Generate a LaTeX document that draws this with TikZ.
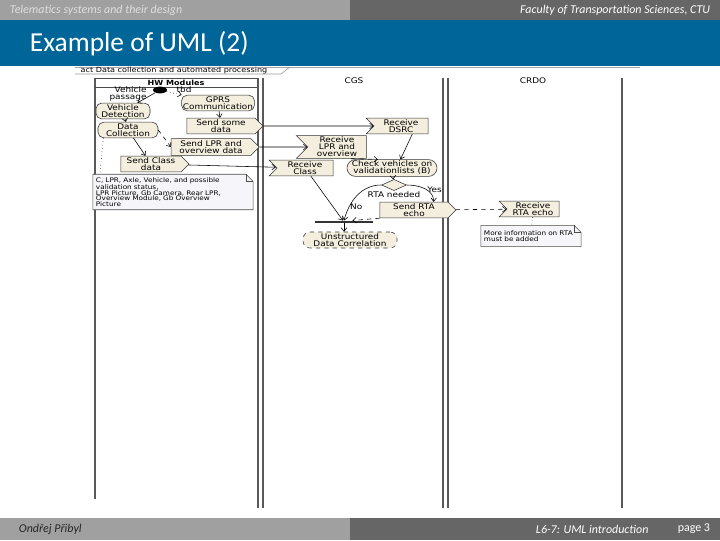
\documentclass[tikz,border=0pt]{standalone}
\usepackage{fontspec}
\setmainfont{Carlito}
\newfontfamily\umlfont[FakeStretch=1.15]{DejaVu Sans}
\usetikzlibrary{positioning,arrows.meta,shapes.geometric,shapes.symbols,backgrounds,calc}

\definecolor{ctublue}{RGB}{0,102,153}
\definecolor{barlight}{RGB}{160,160,160}
\definecolor{bardark}{RGB}{102,102,102}
\definecolor{actfill}{RGB}{244,238,222}
\definecolor{notefill}{RGB}{246,246,250}

% note outline with folded corner, drawn behind a named node
\newcommand{\notefold}[1]{%
  \filldraw[fill=notefill, draw=black!70, line width=0.4pt]
    (#1.north west) -- ([xshift=-5pt]#1.north east) -- ([yshift=-5pt]#1.north east)
    -- (#1.south east) -- (#1.south west) -- cycle;
  \draw[black!70, line width=0.4pt] ([xshift=-5pt]#1.north east) |- ([yshift=-5pt]#1.north east);
}

\begin{document}
\begin{tikzpicture}[
    x=0.025cm, y=-0.025cm,
    uml/.style={
        font=\umlfont\fontsize{5.5}{5}\selectfont,
        align=center,
        inner sep=1pt
    },
    action/.style={
        uml,
        draw=black!80,
        fill=actfill,
        rounded corners=4pt,
        line width=0.4pt
    },
    sendsig/.style={
        uml,
        signal, signal to=east, signal from=nowhere,
        draw=black!80,
        fill=actfill,
        line width=0.4pt
    },
    acceptsig/.style={
        uml,
        signal, signal to=nowhere, signal from=west,
        draw=black!80,
        fill=actfill,
        line width=0.4pt
    },
    notebox/.style={
        uml,
        font=\umlfont\fontsize{4.5}{4}\selectfont,
        align=left,
        inner sep=2pt
    },
    lbl/.style={
        uml,
        inner sep=0.5pt
    },
    flow/.style={
        -{Straight Barb[length=2.5pt,width=4pt]},
        line width=0.4pt
    },
    lane/.style={
        black!65,
        line width=0.8pt
    },
    slidetext/.style={
        font=\itshape\fontsize{8.5}{9}\selectfont
    }
]
\useasboundingbox (0,0) rectangle (720,540);

% Slide frame
\fill[barlight] (0,0) rectangle (350,20);
\fill[bardark] (350,0) rectangle (720,20);
\fill[ctublue] (0,20) rectangle (720,66);
\fill[barlight] (0,518) rectangle (350,540);
\fill[bardark] (350,518) rectangle (720,540);

\node[slidetext, text=gray!25, anchor=west] (course) at (5,10) {Telematics systems and their design};
\node[slidetext, text=white, anchor=east] (faculty) at (715,10) {Faculty of Transportation Sciences, CTU};
\node[text=white, anchor=west, font=\fontsize{19.5}{22}\selectfont] (title) at (25,44) {Example of UML (2)};
\node[slidetext, text=black!85, anchor=west] (author) at (14,529) {Ondřej Přibyl};
\node[slidetext, text=white, anchor=west] (lecture) at (531,529) {L6-7: UML introduction};
\node[font=\fontsize{8.5}{9}\selectfont, text=white, anchor=east] (page) at (715,529) {page 3};

% Activity frame and lanes
\draw[gray!70, line width=0.6pt] (75,67) -- (640,67);
\draw[gray!80, line width=0.4pt] (75,74) -- (281,74) -- (290,67);
\node[lbl, font=\umlfont\fontsize{5}{5}\selectfont] (frametitle) at (174,70.5) {act Data collection and automated processing};

\node[lbl, font=\umlfont\bfseries\fontsize{5}{6}\selectfont] (hwhead) at (176,82.5) {HW Modules};
\node[lbl] (cgshead) at (354,80.5) {CGS};
\node[lbl] (crdohead) at (533,80.5) {CRDO};

% HW Modules
\node[fill=black, ellipse, minimum width=0.35cm, minimum height=0.17cm, inner sep=0pt] (init) at (160,90) {};
\node[lbl, align=right] (passage) at (128,93.5) {Vehicle\\passage};
\node[action, minimum width=1.35cm, minimum height=0.36cm] (vdet) at (123,111) {Vehicle\\Detection};
\node[action, minimum width=1.5cm, minimum height=0.36cm] (dcol) at (128,130) {Data\\Collection};
\node[action, minimum width=1.8cm, minimum height=0.36cm] (gprs) at (218,103) {GPRS\\Communication};
\node[sendsig, minimum width=1.9cm, minimum height=0.38cm] (sendsome) at (221,126) {Send some\\data};
\node[sendsig, minimum width=2.2cm, minimum height=0.42cm] (sendlpr) at (211,147) {Send LPR and\\overview data};
\node[sendsig, minimum width=1.7cm, minimum height=0.37cm] (sendclass) at (151,164) {Send Class\\data};
\node[notebox, text width=3.85cm, minimum height=0.75cm] (hwnote) at (173,192)
    {C, LPR, Axle, Vehicle, and possible\\validation status,\\LPR Picture, Gb Camera, Rear LPR,\\Overview Module, Gb Overview\\Picture};

% CGS
\node[acceptsig, minimum width=1.55cm, minimum height=0.38cm] (recdsrc) at (401,126) {Receive\\DSRC};
\node[acceptsig, minimum width=1.75cm, minimum height=0.43cm] (reclpr) at (337,147) {Receive\\LPR and\\overview};
\node[acceptsig, minimum width=1.6cm, minimum height=0.33cm] (recclass) at (305,168) {Receive\\Class};
\node[action, rounded corners=6pt, minimum width=2.25cm, minimum height=0.33cm] (check) at (392,168) {Check vehicles on\\validationlists (B)};
\node[diamond, draw=black!80, fill=actfill, line width=0.4pt, minimum width=0.62cm, minimum height=0.28cm, inner sep=0pt] (dec) at (394,185) {};
\node[lbl, below=0pt of dec] (rtaguard) {RTA needed};
\node[sendsig, minimum width=1.9cm, minimum height=0.37cm] (sendrta) at (414,210) {Send RTA\\echo};
\node[fill=black!80, minimum width=1.45cm, minimum height=0.06cm, inner sep=0pt] (join) at (344,222) {};
\node[action, dashed, rounded corners=5pt, minimum width=2.35cm, minimum height=0.4cm] (unstr) at (350,240) {Unstructured\\Data Correlation};

% CRDO
\node[acceptsig, minimum width=1.5cm, minimum height=0.37cm] (recrta) at (533,209) {Receive\\RTA echo};
\node[notebox, text width=2.35cm, minimum height=0.52cm] (crdonote) at (531,236) {More information on RTA\\must be added};

% Lanes and notes behind
\begin{scope}[on background layer]
    \draw[lane] (95,78) -- (95,499);
    \draw[black!70, line width=0.4pt] (95,78) -- (258,78);
    \draw[black!70, line width=0.4pt] (95,87) -- (258,87);
    \draw[lane] (258,78) -- (258,508);
    \draw[lane] (263,78) -- (263,508);
    \draw[lane] (443,78) -- (443,508);
    \draw[lane] (448,78) -- (448,508);
    \draw[lane] (622,78) -- (622,508);
    \notefold{hwnote}
    \notefold{crdonote}
\end{scope}

% Flows
\draw[flow] (init) -- (vdet);
\draw[flow, dotted] (init) -- (gprs) node[pos=0.6, above right=0pt, lbl] {tbd};
\draw[flow] (vdet) -- (dcol);
\draw[flow] (gprs) -- (sendsome);
\draw[flow, dashed] (dcol.east) -- (sendlpr.west);
\draw[flow] (dcol) -- (sendclass);
\draw[dotted] ([xshift=4pt]dcol.south west) -- ([xshift=5pt]hwnote.north west);
\draw[flow] (sendsome) -- (recdsrc);
\draw[flow] (sendlpr) -- (reclpr);
\draw[flow] (sendclass) -- (recclass);
\draw[flow] ([xshift=8pt]recdsrc.south) -- ([xshift=6pt]check.north);
\draw[flow, dashed] ([xshift=10pt]reclpr.south) -- ([xshift=-10pt]check.north);
\draw[flow] (recclass) -- (join);
\draw[flow] (check) -- (dec);
\draw[flow] (dec.east) to[out=0, in=90] node[pos=0.55, right, lbl] {Yes} ([xshift=14pt]sendrta.north);
\draw[flow] (dec.west) to[out=180, in=75] node[pos=0.75, right, lbl] {No} (join.north);
\draw[flow, dashed] (sendrta.south west) -- ([xshift=6pt]join.north);
\draw[flow] (join.south) -- (join.south |- unstr.north);
\draw[flow, dashed] (sendrta) -- (recrta);
\draw[dotted] (recrta) -- (crdonote);

\end{tikzpicture}
\end{document}
